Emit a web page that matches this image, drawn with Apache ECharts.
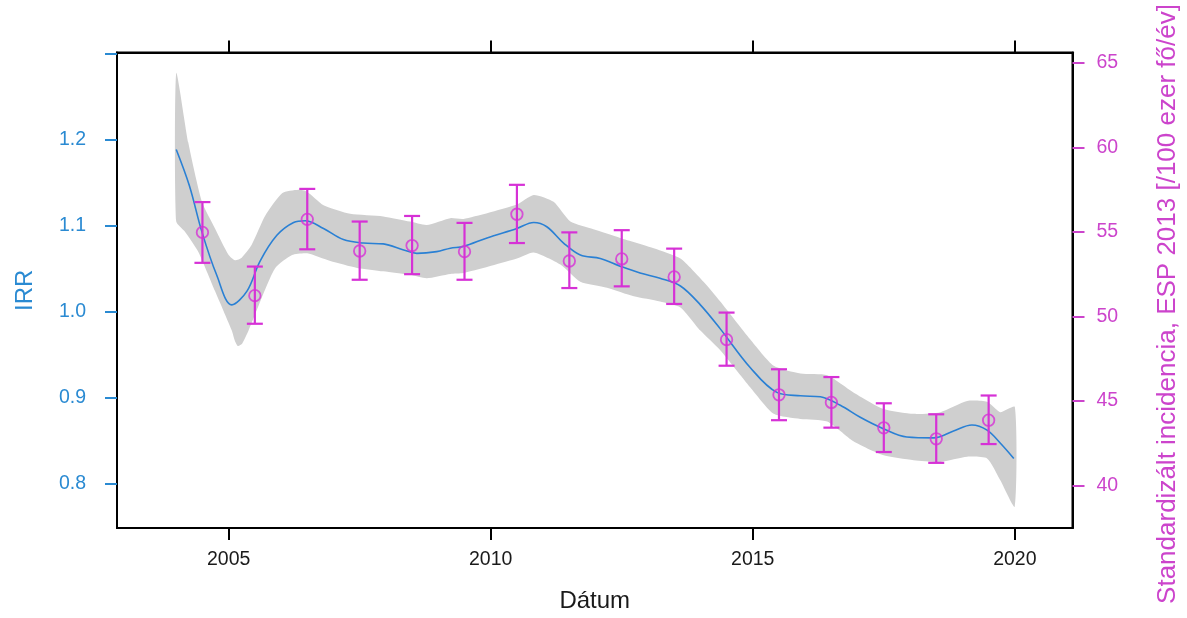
<!DOCTYPE html>
<html>
<head>
<meta charset="utf-8">
<script src="https://cdn.jsdelivr.net/npm/echarts@6/dist/echarts.min.js"></script>
<style>
html,body{margin:0;padding:0;background:#fff;}
#chart{width:1187px;height:618px;}
</style>
</head>
<body>
<div id="chart"></div>
<script>
// ---- data ----
const xTicks = [2005, 2010, 2015, 2020];
const irrTicks = [0.8, 0.9, 1.0, 1.1, 1.2, 1.3];
const irrLabels = [0.8, 0.9, 1.0, 1.1, 1.2];
const incTicks = [40, 45, 50, 55, 60, 65];
const rightTitle = 'Standardizált incidencia, ESP 2013 [/100 ezer fő/év]';

// fitted IRR curve
const curveYears = [2004.0, 2004.25, 2004.49, 2004.77, 2005.06, 2005.35, 2005.60, 2005.92, 2006.24, 2006.46, 2006.81, 2007.19, 2007.57, 2007.95, 2008.34, 2008.59, 2008.97, 2009.23, 2009.48, 2009.93, 2010.50, 2010.82, 2011.07, 2011.39, 2011.71, 2012.09, 2012.47, 2012.85, 2013.23, 2013.62, 2014.00, 2014.38, 2014.95, 2015.46, 2015.91, 2016.29, 2016.67, 2017.05, 2017.48, 2017.94, 2018.45, 2018.83, 2019.18, 2019.47, 2019.72, 2019.98];
const curveIRR   = [1.189, 1.147, 1.093, 1.043, 1.008, 1.024, 1.059, 1.089, 1.104, 1.106, 1.097, 1.084, 1.080, 1.079, 1.072, 1.068, 1.070, 1.074, 1.076, 1.086, 1.097, 1.104, 1.099, 1.080, 1.066, 1.062, 1.053, 1.045, 1.039, 1.030, 1.008, 0.980, 0.935, 0.906, 0.902, 0.901, 0.891, 0.877, 0.864, 0.854, 0.853, 0.861, 0.868, 0.862, 0.847, 0.829];

// confidence band (upper edge)
const bandUpperYears = [2004.0, 2004.23, 2004.49, 2004.74, 2005.0, 2005.12, 2005.25, 2005.44, 2005.70, 2006.02, 2006.33, 2006.49, 2006.81, 2007.32, 2007.95, 2008.46, 2008.78, 2009.23, 2009.48, 2010.50, 2010.82, 2011.20, 2011.52, 2011.96, 2012.47, 2013.11, 2013.62, 2014.06, 2014.38, 2014.95, 2015.40, 2015.91, 2016.42, 2016.92, 2017.48, 2018.07, 2018.58, 2019.09, 2019.47, 2019.72, 2020.0];
const bandUpper      = [1.278, 1.197, 1.128, 1.097, 1.066, 1.060, 1.063, 1.078, 1.112, 1.138, 1.142, 1.140, 1.124, 1.114, 1.111, 1.105, 1.101, 1.109, 1.108, 1.125, 1.136, 1.128, 1.105, 1.096, 1.086, 1.074, 1.062, 1.035, 1.012, 0.968, 0.937, 0.928, 0.926, 0.906, 0.887, 0.881, 0.883, 0.896, 0.895, 0.883, 0.889];
// confidence band (lower edge)
const bandLowerYears = [2004.0, 2004.17, 2004.42, 2004.74, 2005.06, 2005.12, 2005.18, 2005.26, 2005.38, 2005.63, 2005.89, 2006.21, 2006.50, 2006.94, 2007.45, 2007.95, 2008.46, 2008.78, 2009.23, 2009.48, 2010.50, 2010.82, 2011.33, 2011.71, 2012.22, 2012.73, 2013.23, 2013.62, 2014.00, 2014.38, 2014.95, 2015.40, 2015.91, 2016.42, 2016.92, 2017.48, 2018.07, 2018.58, 2019.09, 2019.47, 2019.72, 2020.0];
const bandLower      = [1.105, 1.093, 1.070, 1.024, 0.978, 0.966, 0.960, 0.963, 0.978, 1.016, 1.051, 1.066, 1.068, 1.059, 1.051, 1.047, 1.043, 1.039, 1.044, 1.045, 1.062, 1.069, 1.055, 1.035, 1.028, 1.018, 1.012, 1.005, 0.978, 0.955, 0.912, 0.881, 0.875, 0.872, 0.849, 0.833, 0.827, 0.825, 0.831, 0.829, 0.804, 0.773];

// standardized incidence (right axis) with error bars
const pointYears = [2004.5, 2005.5, 2006.5, 2007.5, 2008.5, 2009.5, 2010.5, 2011.5, 2012.5, 2013.5, 2014.5, 2015.5, 2016.5, 2017.5, 2018.5, 2019.5];
const incidence  = [54.97, 51.23, 55.74, 53.87, 54.19, 53.83, 56.04, 53.28, 53.40, 52.34, 48.63, 45.37, 44.92, 43.42, 42.77, 43.87];
const incLow     = [53.17, 49.57, 53.97, 52.17, 52.50, 52.17, 54.34, 51.68, 51.78, 50.74, 47.09, 43.87, 43.43, 41.99, 41.35, 42.46];
const incHigh    = [56.76, 52.95, 57.54, 55.61, 55.94, 55.53, 57.78, 54.97, 55.10, 54.01, 50.23, 46.88, 46.42, 44.87, 44.22, 45.33];

// ---- styling ----
const FONT = 'Liberation Sans, Arial, sans-serif';
const BLUE = '#2a8ad2';
const LINE_BLUE = '#2a80d4';
const MAG = '#d631d6';
const MAG_LABEL = '#cc44cc';
const GRAY = '#cfcfcf';

const chart = echarts.init(document.getElementById('chart'), null, {renderer: 'canvas'});

const curveData = curveYears.map((y, i) => [y, curveIRR[i]]);
const pointData = pointYears.map((y, i) => [y, incidence[i]]);
const errData = pointYears.map((y, i) => [y, incLow[i], incHigh[i]]);

const X_MIN = 2002.87, X_MAX = 2021.10;

chart.setOption({
  animation: false,
  backgroundColor: '#fff',
  grid: {left: 117, right: 114.5, top: 52.5, bottom: 86, containLabel: false,
         show: true, borderColor: '#000', borderWidth: 2, backgroundColor: 'transparent'},
  graphic: [{
    type: 'text', x: 1168, y: 304, rotation: Math.PI / 2, silent: true,
    style: {text: rightTitle, fontFamily: FONT, fontSize: 26, fill: MAG_LABEL,
            align: 'center', verticalAlign: 'middle'}
  }],
  xAxis: [
    {
      type: 'value', position: 'bottom', min: X_MIN, max: X_MAX,
      name: 'Dátum', nameLocation: 'middle', nameGap: 61,
      nameTextStyle: {fontFamily: FONT, fontSize: 24, color: '#1a1a1a'},
      axisLine: {show: true, onZero: false, lineStyle: {color: '#000', width: 2}},
      axisTick: {show: true, inside: false, length: 12, customValues: xTicks, lineStyle: {color: '#000', width: 2}},
      axisLabel: {show: true, customValues: xTicks, margin: 22, fontFamily: FONT, fontSize: 19.5, color: '#1a1a1a',
                  formatter: v => String(Math.round(v))},
      splitLine: {show: false}
    },
    {
      type: 'value', position: 'top', min: X_MIN, max: X_MAX,
      axisLine: {show: true, onZero: false, lineStyle: {color: '#000', width: 2}},
      axisTick: {show: true, inside: false, length: 12, customValues: xTicks, lineStyle: {color: '#000', width: 2}},
      axisLabel: {show: false},
      splitLine: {show: false}
    }
  ],
  yAxis: [
    {
      type: 'value', position: 'left', min: 0.748, max: 1.302,
      name: 'IRR', nameLocation: 'middle', nameGap: 80, nameRotate: 90,
      nameTextStyle: {fontFamily: FONT, fontSize: 24, color: BLUE},
      axisLine: {show: true, onZero: false, lineStyle: {color: '#000', width: 2}},
      axisTick: {show: true, inside: false, length: 12, customValues: irrTicks, lineStyle: {color: BLUE, width: 2}},
      axisLabel: {show: true, customValues: irrLabels, margin: 31, fontFamily: FONT, fontSize: 19.5, color: BLUE,
                  formatter: v => Number(v).toFixed(1)},
      splitLine: {show: false}
    },
    {
      type: 'value', position: 'right', min: 37.5, max: 65.6,
      axisLine: {show: true, onZero: false, lineStyle: {color: '#000', width: 2}},
      axisTick: {show: true, inside: false, length: 12, customValues: incTicks, lineStyle: {color: MAG_LABEL, width: 2}},
      axisLabel: {show: true, customValues: incTicks, margin: 24, fontFamily: FONT, fontSize: 19.5, color: MAG_LABEL},
      splitLine: {show: false}
    }
  ],
  series: [
    {
      type: 'custom', name: 'band', xAxisIndex: 0, yAxisIndex: 0, z: 1, silent: true,
      data: [[bandUpperYears[0], bandUpper[0]]],
      renderItem: function (params, api) {
        const pts = [];
        for (let i = 0; i < bandUpperYears.length; i++) pts.push(api.coord([bandUpperYears[i], bandUpper[i]]));
        for (let i = bandLowerYears.length - 1; i >= 0; i--) pts.push(api.coord([bandLowerYears[i], bandLower[i]]));
        return {type: 'polygon', shape: {points: pts, smooth: 0.2}, style: {fill: GRAY, stroke: null}};
      }
    },
    {
      type: 'line', name: 'IRR', xAxisIndex: 0, yAxisIndex: 0, z: 3,
      data: curveData, smooth: 0.35, showSymbol: false, symbol: 'none',
      lineStyle: {color: LINE_BLUE, width: 1.6}
    },
    {
      type: 'custom', name: 'errbars', xAxisIndex: 0, yAxisIndex: 1, z: 4,
      data: errData, encode: {x: 0, y: [1, 2]},
      renderItem: function (params, api) {
        const x = api.value(0);
        const pLo = api.coord([x, api.value(1)]);
        const pHi = api.coord([x, api.value(2)]);
        const w = 8;
        const st = {stroke: MAG, lineWidth: 2.2};
        return {type: 'group', children: [
          {type: 'line', shape: {x1: pLo[0], y1: pLo[1], x2: pHi[0], y2: pHi[1]}, style: st},
          {type: 'line', shape: {x1: pLo[0] - w, y1: pLo[1], x2: pLo[0] + w, y2: pLo[1]}, style: st},
          {type: 'line', shape: {x1: pHi[0] - w, y1: pHi[1], x2: pHi[0] + w, y2: pHi[1]}, style: st}
        ]};
      }
    },
    {
      type: 'scatter', name: 'incidence', xAxisIndex: 0, yAxisIndex: 1, z: 5,
      data: pointData, symbol: 'circle', symbolSize: 11.5,
      itemStyle: {color: 'rgba(255,255,255,0)', borderColor: MAG, borderWidth: 1.8}
    }
  ]
});
</script>
</body>
</html>
